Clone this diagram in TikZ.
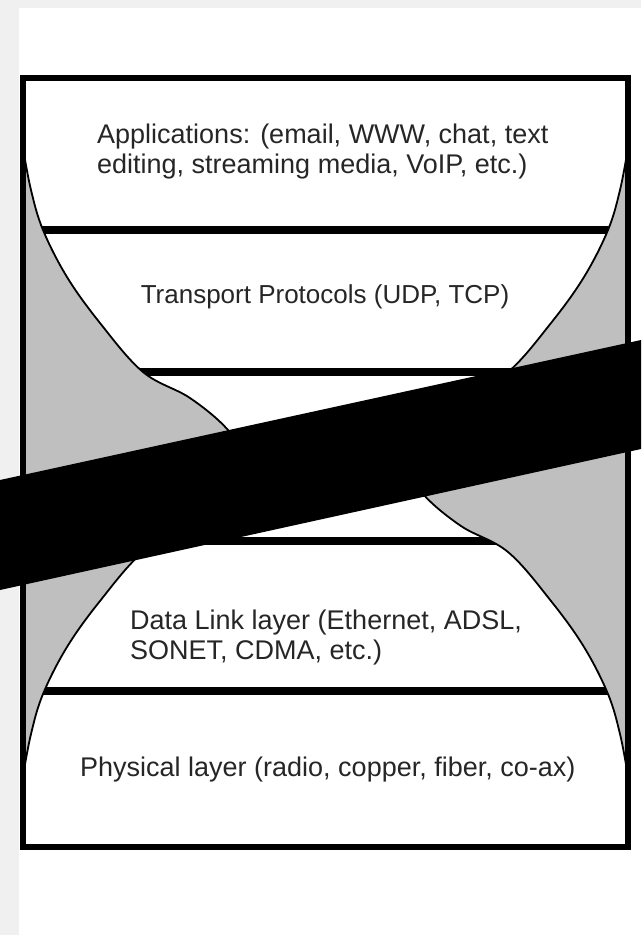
\documentclass[tikz,border=0pt]{standalone}
\usepackage{fontspec}
\setmainfont{Liberation Sans}

\begin{document}
\begin{tikzpicture}[x=1pt, y=-1pt,
  layerline/.style={line width=7.5pt},
  edgeline/.style={line width=1.8pt},
  layertext/.style={font=\fontsize{27}{30}\selectfont, inner sep=0pt, text=black!85}]
  \useasboundingbox (0,0) rectangle (641,935);

  % waist outline of the layer stack (left side, then right side)
  \def\hourglass{(23,77) -- (23,148)
    -- plot[smooth, tension=0.6] coordinates {(23,148) (31,190) (43,230) (67,277) (100,323) (143,372) (190,398) (228,430) (246,462) (228,494) (190,526) (143,552) (100,601) (67,647) (43,694) (31,734) (23,776)}
    -- (23,847) -- (628,847) -- (628,776)
    -- plot[smooth, tension=0.6] coordinates {(628,776) (620,734) (608,694) (584,647) (551,601) (508,552) (461,526) (423,494) (405,462) (423,430) (461,398) (508,372) (551,323) (584,277) (608,230) (620,190) (628,148)}
    -- (628,77) -- cycle}

  % page
  \fill[black!6] (0,0) rectangle (641,935);
  \fill[white] (19,8) rectangle (641,935);

  % shaded sides and white waist
  \fill[black!25] (23,77) rectangle (628,847);
  \filldraw[fill=white, edgeline] \hourglass;

  % layer separators, cut at the waist outline
  \begin{scope}
    \clip \hourglass;
    \foreach \y in {230,372,541,691}
      \draw[layerline] (0,\y) -- (641,\y);
  \end{scope}

  % outer frame
  \draw[line width=6pt] (23,77.5) rectangle (628,846.5);

  % layer labels (base = last line)
  \node[layertext, anchor=base west, align=left] (app) at (97,173)
    {Applications: (email, WWW, chat, text\\editing, streaming media, VoIP, etc.)};
  \node[layertext, font=\fontsize{26}{30}\selectfont, anchor=base] (transport) at (325,303)
    {Transport Protocols (UDP, TCP)};
  \node[layertext, anchor=base west, align=left] (link) at (130,659)
    {Data Link layer (Ethernet, ADSL,\\SONET, CDMA, etc.)};
  \node[layertext, anchor=base west] (phys) at (80,776)
    {Physical layer (radio, copper, fiber, co-ax)};

  % bar across the middle
  \fill (0,480) -- (641,340) -- (641,449) -- (0,590) -- cycle;
\end{tikzpicture}
\end{document}
